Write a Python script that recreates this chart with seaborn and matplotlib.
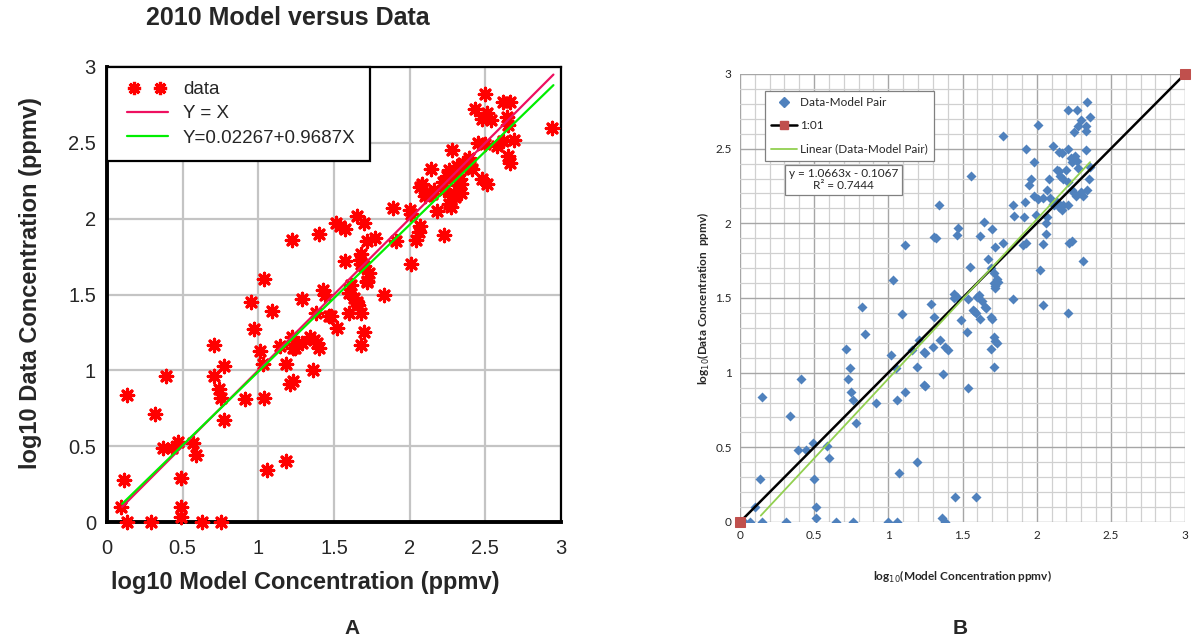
import numpy as np
import pandas as pd
import matplotlib
matplotlib.use("Agg")
import matplotlib.pyplot as plt
import seaborn as sns
from matplotlib.ticker import FixedLocator, MultipleLocator
from matplotlib.lines import Line2D
from matplotlib.legend_handler import HandlerLine2D

sns.set_style("white")
plt.rcParams['font.family'] = ['Liberation Sans', 'DejaVu Sans']

# ---------------- Panel A data (log10 model, log10 data) ----------------
a_model = [0.13, 0.29, 0.63, 0.75, 0.49, 0.49, 0.09, 0.11, 0.49, 0.37, 0.43, 0.47, 0.57, 0.59,
           0.32, 0.13, 0.39, 0.77, 0.91, 1.04, 0.75, 0.74, 0.71, 0.77, 0.71, 1.01, 1.03, 0.97,
           0.95, 1.09, 1.04, 1.06, 1.18, 1.14, 1.18, 1.22, 1.23, 1.23, 1.21, 1.29, 1.34, 1.39,
           1.40, 1.36, 1.29, 1.38, 1.43, 1.44, 1.47, 1.52, 1.60, 1.63, 1.65, 1.68, 1.70, 1.68,
           1.72, 1.83, 1.61, 1.37, 1.24, 1.66, 1.60,
           1.22, 1.40, 1.51, 1.57, 1.65, 1.70, 1.89, 1.72, 1.77, 1.91, 1.68, 1.57, 1.68, 1.73,
           1.72, 1.48, 1.54, 1.67, 1.70,
           2.50, 2.62, 2.66, 2.43, 2.51, 2.48, 2.54, 2.64, 2.65, 2.69, 2.62, 2.58, 2.45, 2.50,
           2.65, 2.66, 2.28, 2.39, 2.35, 2.40, 2.31, 2.26, 2.30, 2.14, 2.48, 2.51, 2.08, 2.11,
           2.16, 2.22, 2.23, 2.29, 2.32, 2.27, 2.26, 2.34, 2.00, 2.01, 2.18, 2.07, 2.06, 2.04,
           2.23, 2.01, 2.94, 2.07, 2.10, 2.15, 2.25, 2.33, 2.34, 2.30, 2.27, 2.41, 2.37]
a_data = [0.00, 0.00, 0.00, 0.00, 0.03, 0.10, 0.10, 0.28, 0.29, 0.49, 0.49, 0.53, 0.52, 0.44,
          0.71, 0.84, 0.96, 0.67, 0.81, 0.82, 0.82, 0.88, 0.96, 1.03, 1.17, 1.13, 1.04, 1.27,
          1.45, 1.39, 1.60, 0.34, 0.40, 1.16, 1.04, 1.22, 1.15, 0.93, 0.91, 1.18, 1.22, 1.18,
          1.15, 1.00, 1.47, 1.38, 1.53, 1.50, 1.36, 1.28, 1.38, 1.48, 1.45, 1.38, 1.25, 1.17,
          1.58, 1.50, 1.56, 1.20, 1.15, 1.43, 1.51,
          1.86, 1.90, 1.97, 1.93, 2.02, 1.97, 2.07, 1.85, 1.87, 1.85, 1.77, 1.72, 1.70, 1.64,
          1.59, 1.36, 1.95, 1.73, 1.69,
          2.82, 2.77, 2.77, 2.72, 2.70, 2.66, 2.65, 2.67, 2.62, 2.52, 2.51, 2.48, 2.50, 2.49,
          2.41, 2.37, 2.45, 2.40, 2.37, 2.35, 2.35, 2.32, 2.28, 2.33, 2.26, 2.23, 2.23, 2.17,
          2.19, 2.24, 2.19, 2.17, 2.22, 2.12, 2.10, 2.23, 2.06, 2.03, 2.05, 1.95, 1.91, 1.86,
          1.89, 1.70, 2.60, 2.21, 2.15, 2.16, 2.28, 2.26, 2.17, 2.14, 2.08, 2.33, 2.35]
a_line_x = [0.10, 2.95]
a_fit_intercept, a_fit_slope = 0.02267, 0.9687
a_labels = ["data", "Y = X", "Y=0.02267+0.9687X"]

# ---------------- Panel B data ----------------
b_model = [0.03, 0.07, 0.15, 0.31, 0.65, 0.76, 1.00, 1.06, 1.36, 1.38, 0.10, 0.51, 0.51, 0.135,
           0.50, 0.39, 0.445, 0.49, 0.585, 0.60, 0.34, 0.15, 0.41, 0.73, 0.75, 0.76, 0.78, 0.92,
           1.06, 1.07, 1.19, 1.45, 1.59, 1.03, 0.82, 0.84, 1.09, 0.715, 0.74, 1.02, 1.05, 1.11,
           1.16, 1.21, 1.19, 1.24, 1.24, 1.25, 1.30, 1.37, 1.35, 1.38, 1.40, 1.31, 1.29, 1.44,
           1.44, 1.49, 1.53, 1.54, 1.535, 1.58, 1.59, 1.62, 1.61, 1.63, 1.65, 1.69, 1.71, 1.73,
           1.69, 1.71, 1.84, 1.72, 1.31, 1.46, 1.11, 1.25,
           2.01, 1.77, 1.93, 2.11, 2.15, 2.17, 1.98, 1.56, 1.96, 1.95, 2.08, 2.135, 2.16, 2.15,
           2.18, 2.21, 2.20, 2.07, 1.98, 2.01, 2.045, 2.09, 2.11, 2.135, 2.15, 2.17, 2.18, 1.34,
           1.84, 1.92, 1.85, 1.915, 1.995, 2.07, 1.47, 1.645, 1.70, 1.62, 1.32, 1.72, 1.77, 1.905,
           1.93, 2.06, 2.06, 2.04, 2.22, 1.67, 1.55, 1.69, 1.71, 1.73, 1.71, 1.72, 2.02, 1.46,
           1.60, 2.34, 2.21, 2.27, 2.36, 2.30, 2.28, 2.33, 2.33, 2.25, 2.21, 2.33, 2.23, 2.26,
           2.24, 2.27, 2.36, 2.28, 2.35, 2.34, 2.24, 2.25, 2.265, 2.315, 2.30, 2.12, 2.21, 2.24,
           2.315, 1.74, 1.66, 1.57, 1.70, 2.04, 2.21, 1.72]
b_data = [0.00, 0.00, 0.00, 0.00, 0.00, 0.00, 0.00, 0.00, 0.03, 0.00, 0.10, 0.10, 0.03, 0.29,
          0.29, 0.48, 0.48, 0.53, 0.51, 0.43, 0.71, 0.84, 0.96, 0.96, 0.87, 0.82, 0.665, 0.80,
          0.82, 0.33, 0.40, 0.165, 0.165, 1.62, 1.44, 1.26, 1.39, 1.16, 1.03, 1.12, 1.03, 0.87,
          1.15, 1.22, 1.04, 1.14, 0.92, 0.91, 1.17, 0.99, 1.22, 1.17, 1.15, 1.37, 1.46, 1.53,
          1.50, 1.35, 1.27, 0.90, 1.49, 1.41, 1.40, 1.36, 1.52, 1.48, 1.44, 1.37, 1.24, 1.20,
          1.16, 1.04, 1.49, 1.58, 1.91, 1.92, 1.855, 1.13,
          2.66, 2.585, 2.50, 2.52, 2.48, 2.47, 2.41, 2.32, 2.30, 2.26, 2.295, 2.36, 2.32, 2.35,
          2.30, 2.28, 2.36, 2.22, 2.18, 2.16, 2.17, 2.17, 2.13, 2.145, 2.11, 2.09, 2.12, 2.12,
          2.12, 2.145, 2.05, 2.045, 2.055, 2.045, 1.97, 2.01, 1.96, 1.915, 1.90, 1.84, 1.865, 1.855,
          1.865, 2.00, 1.93, 1.86, 1.87, 1.76, 1.71, 1.70, 1.665, 1.63, 1.60, 1.565, 1.69, 1.51,
          1.51, 2.81, 2.76, 2.76, 2.715, 2.69, 2.65, 2.65, 2.62, 2.61, 2.50, 2.49, 2.44, 2.45,
          2.41, 2.42, 2.38, 2.37, 2.30, 2.22, 2.22, 2.20, 2.18, 2.18, 2.21, 2.12, 2.12, 1.88,
          1.745, 1.61, 1.43, 1.42, 1.36, 1.45, 1.40, 1.21]
b_one_x = [0, 3]
b_trend_x = [0.14, 2.36]
b_fit_intercept, b_fit_slope = -0.1067, 1.0663
b_labels = ["Data-Model Pair", "1:01", "Linear (Data-Model Pair)"]
b_eq_text = "y = 1.0663x - 0.1067\nR\u00b2 = 0.7444"

ticks = [0, 0.5, 1, 1.5, 2, 2.5, 3]
tick_labels = ["0", "0.5", "1", "1.5", "2", "2.5", "3"]

dfA = pd.DataFrame({"model": a_model, "data": a_data})
dfB = pd.DataFrame({"model": b_model, "data": b_data})
a_lx = np.array(a_line_x)
dfA_one = pd.DataFrame({"x": a_lx, "y": a_lx})
dfA_fit = pd.DataFrame({"x": a_lx, "y": a_fit_intercept + a_fit_slope * a_lx})
b_tx = np.array(b_trend_x)
dfB_one = pd.DataFrame({"x": b_one_x, "y": b_one_x})
dfB_fit = pd.DataFrame({"x": b_tx, "y": b_fit_intercept + b_fit_slope * b_tx})

W, H = 1194, 642
fig = plt.figure(figsize=(W / 100, H / 100), dpi=100)

# ================= Panel A =================
axA = fig.add_axes([107 / W, (H - 522) / H, 454 / W, 455 / H])
star = (8, 2, 0)
sns.scatterplot(data=dfA, x="model", y="data", ax=axA, marker=star, color="#ff0000",
                s=80, linewidth=2.3, zorder=3, clip_on=False, legend=False)
sns.lineplot(data=dfA_one, x="x", y="y", ax=axA, color="#ee1060", linewidth=1.6, zorder=4)
sns.lineplot(data=dfA_fit, x="x", y="y", ax=axA, color="#00ee00", linewidth=1.6, zorder=5)
axA.set_xlim(0, 3)
axA.set_ylim(0, 3)
axA.xaxis.set_major_locator(FixedLocator(ticks))
axA.yaxis.set_major_locator(FixedLocator(ticks))
axA.set_xticklabels(tick_labels)
axA.set_yticklabels(tick_labels)
axA.grid(True, color="#c4c4c4", linewidth=1.6, zorder=0)
axA.set_axisbelow(True)
axA.tick_params(length=0, labelsize=14.5)
axA.tick_params(axis="x", pad=12)
axA.tick_params(axis="y", pad=8)
for side in ["top", "right"]:
    axA.spines[side].set_color("black")
    axA.spines[side].set_linewidth(1.6)
for side in ["left", "bottom"]:
    axA.spines[side].set_color("black")
    axA.spines[side].set_linewidth(2.8)
axA.set_xlabel("log10 Model Concentration (ppmv)", fontsize=17, fontweight="bold")
axA.set_ylabel("log10 Data Concentration (ppmv)", fontsize=17, fontweight="bold")
axA.xaxis.set_label_coords((305 - 107) / 454, -(583 - 522) / 455)
axA.yaxis.set_label_coords(-(107 - 31) / 454, (522 - 283) / 455)
axA.xaxis.label.set_va("center")
axA.yaxis.label.set_va("center")

hA = [Line2D([], [], color="#ff0000", marker=star, markersize=9.5, markeredgewidth=2.3,
             linestyle="none"),
      Line2D([], [], color="#ee1060", linewidth=1.6),
      Line2D([], [], color="#00ee00", linewidth=1.6)]
legA = axA.legend(hA, a_labels, loc="upper left", bbox_to_anchor=(0.0, 1.0), borderaxespad=0,
                  numpoints=2, fontsize=13.5, frameon=True, fancybox=False, framealpha=1,
                  edgecolor="black", handlelength=2.8, handletextpad=0.5, labelspacing=0.38,
                  borderpad=0.75, handler_map={hA[0]: HandlerLine2D(marker_pad=0.7)})
legA.get_frame().set_linewidth(1.6)
legA.set_zorder(10)

fig.text(288 / W, 1 - 18 / H, "2010 Model versus Data", ha="center", va="center",
         fontsize=18, fontweight="bold")
fig.text(352 / W, 1 - 628 / H, "A", ha="center", va="center", fontsize=15, fontweight="bold")

# ================= Panel B =================
axB = fig.add_axes([740 / W, (H - 522) / H, 445 / W, 448 / H])
sns.scatterplot(data=dfB, x="model", y="data", ax=axB, marker="D", color="#4f81bd",
                s=26, linewidth=0, zorder=3, legend=False)
sns.lineplot(data=dfB_one, x="x", y="y", ax=axB, color="black", linewidth=1.8, zorder=4,
             marker="s", markersize=7, markerfacecolor="#c0504d", markeredgecolor="#c0504d")
sns.lineplot(data=dfB_fit, x="x", y="y", ax=axB, color="#92d050", linewidth=1.3, zorder=5)
for ln in axB.get_lines():
    ln.set_clip_on(False)
axB.set_xlim(0, 3)
axB.set_ylim(0, 3)
axB.xaxis.set_major_locator(FixedLocator(ticks))
axB.yaxis.set_major_locator(FixedLocator(ticks))
axB.set_xticklabels(tick_labels)
axB.set_yticklabels(tick_labels)
axB.xaxis.set_minor_locator(MultipleLocator(0.1))
axB.yaxis.set_minor_locator(MultipleLocator(0.1))
axB.grid(True, which="major", color="#a6a6a6", linewidth=1.0, zorder=0)
axB.grid(True, which="minor", color="#d0d0d0", linewidth=0.9, zorder=0)
axB.set_axisbelow(True)
for side in axB.spines:
    axB.spines[side].set_visible(False)
axB.tick_params(which="both", length=0, labelsize=8.5, pad=6)
for lab in axB.get_xticklabels() + axB.get_yticklabels():
    lab.set_family(["Lato", "DejaVu Sans"])
axB.set_xlabel("log$_{10}$(Model Concentration ppmv)", fontsize=8.5, fontweight="bold",
               family=["Lato", "DejaVu Sans"], labelpad=20)
axB.set_ylabel("log$_{10}$(Data Concentration  ppmv)", fontsize=8.5, fontweight="bold",
               family=["Lato", "DejaVu Sans"], labelpad=2)

hB = [Line2D([], [], color="#4f81bd", marker="D", markersize=5, linestyle="none"),
      Line2D([], [], color="black", linewidth=1.8, marker="s", markersize=6,
             markerfacecolor="#c0504d", markeredgecolor="#c0504d"),
      Line2D([], [], color="#92d050", linewidth=1.3)]
legB = axB.legend(hB, b_labels, loc="upper left", bbox_to_anchor=(0.056, 0.962),
                  borderaxespad=0, numpoints=1, frameon=True, fancybox=False,
                  framealpha=1, edgecolor="#808080", handlelength=2.2, handletextpad=0.3,
                  labelspacing=1.05, borderpad=0.5, prop={"family": ["Lato", "DejaVu Sans"],
                                                         "size": 8.5})
legB.get_frame().set_linewidth(0.9)
legB.set_zorder(10)
axB.text(0.2325, 0.764, b_eq_text, transform=axB.transAxes, ha="center", va="center",
         fontsize=8.5, family=["Lato", "DejaVu Sans"], zorder=11, linespacing=1.1,
         bbox=dict(boxstyle="square,pad=0.3", facecolor="white", edgecolor="#808080",
                   linewidth=0.9))

fig.text(960 / W, 1 - 628 / H, "B", ha="center", va="center", fontsize=15, fontweight="bold")

fig.savefig("out.png", dpi=100)
